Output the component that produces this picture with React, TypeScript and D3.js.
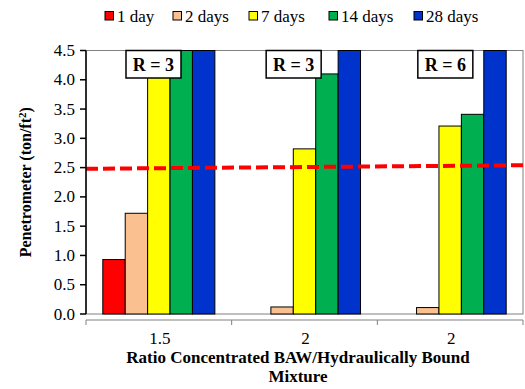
import React from "react";
import * as d3 from "d3";

const categories = ["1.5", "2", "2"];
const seriesNames = ["1 day", "2 days", "7 days", "14 days", "28 days"];
const seriesColors = ["#ff0000", "#fac090", "#ffff00", "#00b050", "#0033cc"];
const values = [
  [0.93, 1.72, 4.5, 4.5, 4.5],
  [0, 0.12, 2.82, 4.1, 4.5],
  [0, 0.11, 3.21, 3.41, 4.5],
];
const rLabels = ["R = 3", "R = 3", "R = 6"];
const yTicks = [0, 0.5, 1, 1.5, 2, 2.5, 3, 3.5, 4, 4.5];
const thresholdLine = [2.48, 2.54];

const W = 525, H = 389;
const m = { left: 86, right: 523, top: 50.5, bottom: 314 };
const fs = { fontFamily: "Liberation Serif" };

export default function App() {
  const x = d3.scaleBand<number>().domain(categories.map((_, i) => i)).range([m.left, m.right]).paddingInner(0).paddingOuter(0);
  const y = d3.scaleLinear().domain([0, 4.5]).range([m.bottom, m.top]);
  const inner = d3.scaleBand<number>().domain(seriesNames.map((_, i) => i)).range([0, x.bandwidth()]).paddingOuter(0.75).paddingInner(0);
  const legendX = [105, 173, 249, 329, 414];
  const boxOffsets = [40, 34.5, 40.5];
  return (
    <svg width={W} height={H} style={{ position: "absolute", left: 0, top: 0, fontFamily: "Liberation Serif" }}>
      <rect x={0} y={0} width={W} height={H} fill="#fff" />
      {seriesNames.map((s, i) => (
        <g key={s}>
          <rect x={legendX[i]} y={11.5} width={8.5} height={8.5} fill={seriesColors[i]} stroke="#000" strokeWidth={1} />
          <text x={legendX[i] + 12} y={22} fontSize={17} style={fs} fill="#000">{s}</text>
        </g>
      ))}
      <rect x={m.left} y={m.top} width={m.right - m.left} height={m.bottom - m.top} fill="none" stroke="#808080" strokeWidth={1} />
      {values.map((vals, ci) => (
        <g key={ci}>
          {vals.map((v, si) =>
            v > 0 ? (
              <rect key={si} x={(x(ci) as number) + (inner(si) as number)} y={y(v)} width={inner.bandwidth()} height={y(0) - y(v)} fill={seriesColors[si]} stroke="#000" strokeWidth={1} />
            ) : null
          )}
        </g>
      ))}
      <line x1={m.left} x2={m.right} y1={y(thresholdLine[0])} y2={y(thresholdLine[1])} stroke="#ff0000" strokeWidth={4} strokeDasharray="12,5" />
      {rLabels.map((r, ci) => {
        const bx = (x(ci) as number) + boxOffsets[ci];
        return (
          <g key={ci}>
            <rect x={bx} y={m.top} width={55} height={27.5} fill="#fff" stroke="#000" strokeWidth={1.5} />
            <text x={bx + 27.5} y={m.top + 20} fontSize={18} style={fs} fontWeight="bold" textAnchor="middle">{r}</text>
          </g>
        );
      })}
      <line x1={m.left} x2={m.left} y1={m.top} y2={m.bottom} stroke="#000" strokeWidth={1.5} />
      {yTicks.map((t) => (
        <g key={t}>
          <line x1={m.left - 6} x2={m.left} y1={y(t)} y2={y(t)} stroke="#000" strokeWidth={1.5} />
          <text x={m.left - 11} y={y(t) + 5.5} fontSize={17} style={fs} textAnchor="end">{t.toFixed(1)}</text>
        </g>
      ))}
      <line x1={m.left} x2={m.right} y1={m.bottom + 6} y2={m.bottom + 6} stroke="#808080" strokeWidth={1} />
      {d3.range(categories.length + 1).map((i) => {
        const xx = m.left + i * x.bandwidth();
        return <line key={i} x1={xx} x2={xx} y1={m.bottom + 6} y2={m.bottom + 11} stroke="#808080" strokeWidth={1} />;
      })}
      {categories.map((c, i) => (
        <text key={i} x={(x(i) as number) + x.bandwidth() / 2 + 1} y={344} fontSize={17} style={fs} textAnchor="middle">{c}</text>
      ))}
      <text x={298} y={363} fontSize={17} style={fs} fontWeight="bold" textAnchor="middle">Ratio Concentrated BAW/Hydraulically Bound</text>
      <text x={298} y={382} fontSize={17} style={fs} fontWeight="bold" textAnchor="middle">Mixture</text>
      <text transform={`translate(31,${(m.top + m.bottom) / 2}) rotate(-90)`} fontSize={16} style={fs} fontWeight="bold" textAnchor="middle">
        Penetrometer (ton/ft<tspan dy={-5} fontSize={11}>2</tspan><tspan dy={5}>)</tspan>
      </text>
    </svg>
  );
}
